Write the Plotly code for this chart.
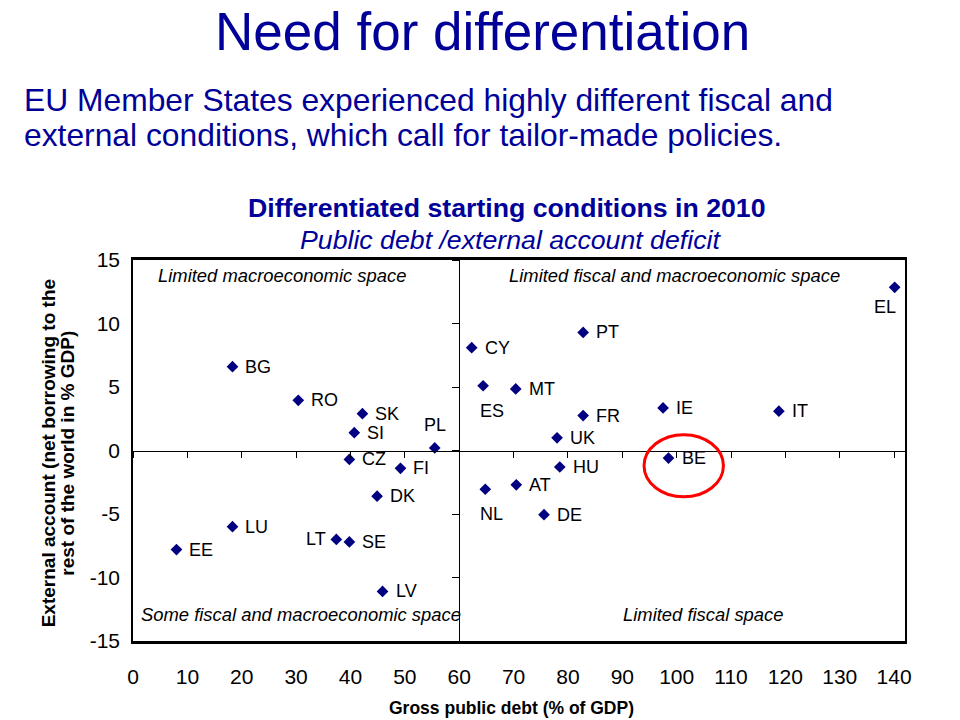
import plotly.graph_objects as go

# ---- data ----
countries = ["BG", "RO", "SK", "SI", "PL", "CZ", "FI", "DK", "LU", "EE", "LT", "SE", "LV",
             "EL", "PT", "CY", "ES", "MT", "IE", "IT", "FR", "UK", "BE", "HU", "AT", "NL", "DE"]
gross_debt = [18.3, 30.4, 42.2, 40.7, 55.5, 39.8, 49.2, 44.9, 18.3, 8.0, 37.4, 39.8, 45.9,
              140.1, 82.8, 62.3, 64.4, 70.4, 97.5, 118.8, 82.8, 78.0, 98.5, 78.5, 70.5, 64.8, 75.6]
external_account = [6.6, 3.95, 2.9, 1.4, 0.2, -0.7, -1.4, -3.6, -6.0, -7.8, -7.0, -7.2, -11.1,
                    12.85, 9.3, 8.1, 5.1, 4.85, 3.35, 3.1, 2.75, 1.0, -0.6, -1.3, -2.7, -3.05, -5.05]
x_ticks = [0, 10, 20, 30, 40, 50, 60, 70, 80, 90, 100, 110, 120, 130, 140]
y_ticks = [-15, -10, -5, 0, 5, 10, 15]
y_tick_labels = ["-15", "-10", "-5", "0", "5", "10", "15"]
debt_threshold = 60
external_threshold = 0
highlight = "BE"

quadrant_labels = ["Limited macroeconomic space", "Limited fiscal and macroeconomic space",
                   "Some fiscal and macroeconomic space", "Limited fiscal space"]

# ---- styling ----
FONT = "Liberation Sans, Arial, sans-serif"
NAVY = "#000099"
MARK = "#000080"
XR = [0, 142]
YR = [-15, 15]
L, R, T, B = 133, 55, 260, 79
W, H = 960, 720
PW, PH = W - L - R, H - T - B


def px(xp):
    return (xp - L) / PW


def py(yp):
    return 1 - (yp - T) / PH


label_pos = {"PL": ("center", 0, 23), "EL": ("center", -10, -20), "ES": ("center", 9, -25),
             "NL": ("center", 6, -25), "LT": ("right", -8, 0)}

fig = go.Figure()
fig.add_trace(go.Scatter(
    x=gross_debt, y=external_account, mode="markers",
    marker=dict(symbol="diamond", size=9, color=MARK),
    cliponaxis=False, hoverinfo="skip", showlegend=False))

annotations = []
for c, xv, yv in zip(countries, gross_debt, external_account):
    anchor, dx, dy = label_pos.get(c, ("left", 11, 0))
    annotations.append(dict(x=xv, y=yv, xref="x", yref="y", text=c, showarrow=False,
                            xanchor=anchor, yanchor="middle", xshift=dx, yshift=dy,
                            font=dict(family=FONT, size=18, color="black")))

quad_xy = [(281.7, 275.7), (674.2, 275.5), (300.9, 614.3), (702.5, 614.3)]
for txt, (qx, qy) in zip(quadrant_labels, quad_xy):
    annotations.append(dict(x=px(qx), y=py(qy), xref="paper", yref="paper", text=f"<i>{txt}</i>",
                            showarrow=False, xanchor="center", yanchor="middle",
                            font=dict(family=FONT, size=18.4, color="black")))

# titles
annotations += [
    dict(x=px(482), y=py(32), xref="paper", yref="paper", text="Need for differentiation",
         showarrow=False, xanchor="center", yanchor="middle",
         font=dict(family=FONT, size=53, color=NAVY)),
    dict(x=px(22), y=py(100), xref="paper", yref="paper",
         text="EU Member States experienced highly different fiscal and",
         showarrow=False, xanchor="left", yanchor="middle",
         font=dict(family=FONT, size=31.8, color=NAVY)),
    dict(x=px(22), y=py(135), xref="paper", yref="paper",
         text="external conditions, which call for tailor-made policies.",
         showarrow=False, xanchor="left", yanchor="middle",
         font=dict(family=FONT, size=31.8, color=NAVY)),
    dict(x=px(506.5), y=py(208), xref="paper", yref="paper",
         text="<b>Differentiated starting conditions in 2010</b>",
         showarrow=False, xanchor="center", yanchor="middle",
         font=dict(family=FONT, size=26.7, color=NAVY)),
    dict(x=px(510), y=py(240), xref="paper", yref="paper",
         text="<i>Public debt /external account deficit</i>",
         showarrow=False, xanchor="center", yanchor="middle",
         font=dict(family=FONT, size=26.7, color=NAVY)),
    dict(x=px(48.3), y=py(453), xref="paper", yref="paper",
         text="<b>External account (net borrowing to the</b>", textangle=-90,
         showarrow=False, xanchor="center", yanchor="middle",
         font=dict(family=FONT, size=19, color="black")),
    dict(x=px(66.7), y=py(453), xref="paper", yref="paper",
         text="<b>rest of the world in % GDP)</b>", textangle=-90,
         showarrow=False, xanchor="center", yanchor="middle",
         font=dict(family=FONT, size=19, color="black")),
    dict(x=px(511), y=py(708), xref="paper", yref="paper",
         text="<b>Gross public debt (% of GDP)</b>",
         showarrow=False, xanchor="center", yanchor="middle",
         font=dict(family=FONT, size=17.5, color="black")),
]

# highlight ellipse around BE, derived from its data point
bi = countries.index(highlight)
cx, cy = gross_debt[bi] + 2.8, external_account[bi] - 0.6
shapes = [dict(type="circle", xref="x", yref="y", x0=cx - 7.3, x1=cx + 7.3, y0=cy - 2.45, y1=cy + 2.45,
               line=dict(color="#ff0000", width=3))]

fig.update_layout(
    width=W, height=H, margin=dict(l=L, r=R, t=T, b=B),
    paper_bgcolor="white", plot_bgcolor="white",
    annotations=annotations, shapes=shapes,
    xaxis=dict(range=XR, tickvals=x_ticks, ticks="", showgrid=False, zeroline=False,
               showline=True, linecolor="black", linewidth=3, mirror=True,
               tickfont=dict(family=FONT, size=21, color="black"), ticklabelstandoff=15),
    yaxis=dict(range=YR, tickvals=y_ticks, ticktext=y_tick_labels, ticks="", showgrid=False,
               zeroline=False, showline=True, linecolor="black", linewidth=1.5, mirror=True,
               tickfont=dict(family=FONT, size=21, color="black"), ticklabelstandoff=7),
    xaxis2=dict(range=XR, tickvals=x_ticks, overlaying="x", anchor="free",
                position=(external_threshold - YR[0]) / (YR[1] - YR[0]),
                ticks="outside", ticklen=6, tickcolor="black", tickwidth=1,
                showline=True, linecolor="black", linewidth=1, showticklabels=False,
                showgrid=False, zeroline=False),
    yaxis2=dict(range=YR, tickvals=y_ticks, overlaying="y", anchor="free",
                position=(debt_threshold - XR[0]) / (XR[1] - XR[0]),
                ticks="outside", ticklen=7, tickcolor="black", tickwidth=1,
                showline=True, linecolor="black", linewidth=1, showticklabels=False,
                showgrid=False, zeroline=False),
)
fig.add_trace(go.Scatter(x=[None], y=[None], xaxis="x2", yaxis="y2", showlegend=False,
                         hoverinfo="skip"))

fig.write_html("out.html", config={"displayModeBar": False},
               post_script="document.body.style.margin='0';")
